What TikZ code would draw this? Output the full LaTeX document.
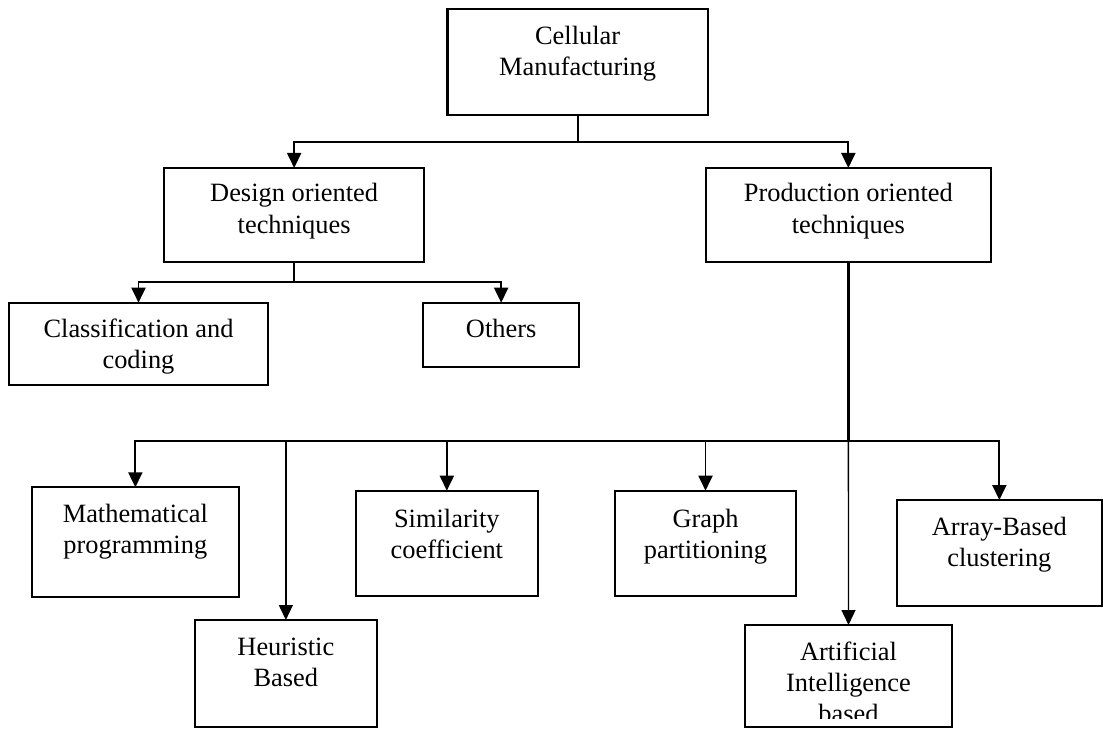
\documentclass[tikz,border=0pt]{standalone}
\usepackage{fontspec}
\setmainfont{Liberation Serif}
\usetikzlibrary{arrows.meta,calc,fit}
% centred multi-line label whose baseline is the first line
\newcommand{\stacklines}[1]{\vtop{\halign{\hfil##\hfil\cr#1\crcr}}}
\begin{document}
\begin{tikzpicture}[x=1bp,y=-1bp,
  box/.style={draw=black, line width=2.2bp, inner sep=0pt, outer sep=0pt},
  lbl/.style={inner sep=0pt, outer sep=0pt, anchor=base,
              font=\fontsize{26.4bp}{31bp}\selectfont},
  conn/.style={draw=black, line width=1.9bp},
  busline/.style={draw=black, line width=2.8bp},
  slim/.style={draw=black, line width=1.3bp},
  arrowhd/.style={-{Triangle[length=15bp,width=14bp]}}]

\fill[white] (0,0) rectangle (1103,729);
\useasboundingbox (0,0) rectangle (1103,729);

% ---- boxes ----
\node[box, fit={(447.5,9) (707.7,115)}]      (cm)   {};
\node[box, fit={(164.3,168) (424,261.7)}]    (des)  {};
\node[box, fit={(705.7,168) (991,261.7)}]    (prod) {};
\node[box, fit={(8.7,302.7) (268.3,385)}]    (cls)  {};
\node[box, fit={(423.3,302.7) (579,367.3)}]  (oth)  {};
\node[box, fit={(31.7,487.3) (239,596.7)}]   (math) {};
\node[box, fit={(356,490.7) (537.7,596)}]    (sim)  {};
\node[box, fit={(615,490.7) (796,596)}]      (grph) {};
\node[box, fit={(896.7,500) (1102,605.7)}]   (arr)  {};
\node[box, fit={(195,620) (376.7,727)}]      (heur) {};
\node[box, fit={(745,625) (952,727)}]        (ai)   {};

% ---- labels ----
\node[lbl] (cm-t)   at ($(cm.north)+(0,36)$)   {\stacklines{Cellular\cr Manufacturing}};
\node[lbl] (des-t)  at ($(des.north)+(0,34)$)  {\stacklines{Design oriented\cr techniques}};
\node[lbl] (prod-t) at ($(prod.north)+(0,34)$) {\stacklines{Production oriented\cr techniques}};
\node[lbl] (cls-t)  at ($(cls.north)+(0,34.6)$) {\stacklines{Classification and\cr coding}};
\node[lbl] (oth-t)  at ($(oth.north)+(0,34.6)$) {\stacklines{Others}};
\node[lbl] (math-t) at ($(math.north)+(0,35)$) {\stacklines{Mathematical\cr programming}};
\node[lbl] (sim-t)  at ($(sim.north)+(0,36.5)$) {\stacklines{Similarity\cr coefficient}};
\node[lbl] (grph-t) at ($(grph.north)+(0,36.5)$) {\stacklines{Graph\cr partitioning}};
\node[lbl] (arr-t)  at ($(arr.north)+(0,35)$)  {\stacklines{Array-Based\cr clustering}};
\node[lbl] (heur-t) at ($(heur.north)+(0,35)$) {\stacklines{Heuristic\cr Based}};
\begin{scope}
  \clip (745,625) rectangle (952,718);
  \node[lbl] (ai-t) at ($(ai.north)+(0,35)$) {\stacklines{Artificial\cr Intelligence\cr based}};
\end{scope}

% ---- connectors: first level ----
\coordinate (k) at ($(cm.south)+(0,27)$);
\draw[conn] (cm.south) -- (k);
\draw[conn, arrowhd] (k) -| (des.north);
\draw[conn, arrowhd] (k) -| (prod.north);

% ---- connectors: design oriented ----
\coordinate (m) at ($(des.south)+(0,20.6)$);
\draw[conn] (des.south) -- (m);
\draw[conn, arrowhd] (m) -| (cls.north);
\draw[conn, arrowhd] (m) -| (oth.north);

% ---- connectors: production oriented ----
\coordinate (j) at ($(prod.south)+(0,179.3)$);
\draw[busline] (prod.south) -- (j);
\draw[busline] (j) -- (j -| heur.north);
\draw[conn, arrowhd] (j) -| (math.north);
\draw[slim, arrowhd] (j -| heur.north) -- (heur.north);
\draw[conn, arrowhd] (j -| sim.north) -- (sim.north);
\draw[conn, arrowhd] (j -| grph.north) -- (grph.north);
\draw[slim, arrowhd] (j) -- (ai.north);
\draw[conn, arrowhd] (j) -| (arr.north);

\end{tikzpicture}
\end{document}
